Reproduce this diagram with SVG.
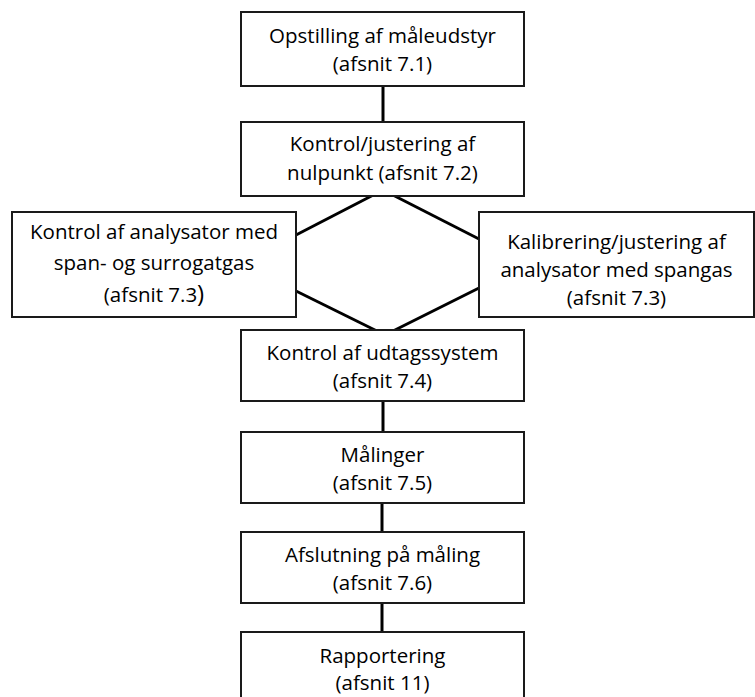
<svg xmlns="http://www.w3.org/2000/svg" width="755" height="697" viewBox="0 0 755 697">
<style>
.box{fill:#fff;stroke:#1a1a1a;stroke-width:2}
.c{stroke:#000;stroke-width:3;fill:none}
text{font-family:"Open Sans","Noto Sans",sans-serif;font-size:20.5px;fill:#000;text-anchor:middle}
</style>
<rect width="755" height="697" fill="#fff"/>
<g id="connectors">
<line class="c" x1="383" y1="86" x2="383" y2="122"/>
<line class="c" x1="383" y1="190" x2="296" y2="235"/>
<line class="c" x1="383" y1="190" x2="479" y2="239"/>
<line class="c" x1="296" y1="291" x2="385" y2="335"/>
<line class="c" x1="479" y1="288" x2="385" y2="335"/>
<line class="c" x1="383" y1="401" x2="383" y2="432"/>
<line class="c" x1="382" y1="503" x2="382" y2="532"/>
<line class="c" x1="382" y1="603" x2="382" y2="632"/>
</g>
<g id="n1"><rect class="box" x="241" y="12" width="283" height="74"/><text x="382.5" y="43">Opstilling af måleudstyr</text><text x="382.5" y="71">(afsnit 7.1)</text></g>
<g id="n2"><rect class="box" x="241" y="122" width="283" height="74"/><text x="382.5" y="151">Kontrol/justering af</text><text x="382.5" y="180">nulpunkt (afsnit 7.2)</text></g>
<g id="n3"><rect class="box" x="12" y="212" width="284" height="105"/><text x="154" y="239">Kontrol af analysator med</text><text x="154" y="270">span- og surrogatgas</text><text x="154" y="302">(afsnit 7.3<tspan font-size="24px">)</tspan></text></g>
<g id="n4"><rect class="box" x="479" y="212" width="275" height="105"/><text x="616.5" y="249">Kalibrering/justering af</text><text x="616.5" y="277">analysator med spangas</text><text x="616.5" y="305">(afsnit 7.3)</text></g>
<g id="n5"><rect class="box" x="241" y="330" width="283" height="71"/><text x="382.5" y="360">Kontrol af udtagssystem</text><text x="382.5" y="388">(afsnit 7.4)</text></g>
<g id="n6"><rect class="box" x="241" y="432" width="283" height="71"/><text x="382.5" y="462">Målinger</text><text x="382.5" y="490">(afsnit 7.5)</text></g>
<g id="n7"><rect class="box" x="241" y="532" width="283" height="71"/><text x="382.5" y="562">Afslutning på måling</text><text x="382.5" y="590">(afsnit 7.6)</text></g>
<g id="n8"><rect class="box" x="241" y="632" width="283" height="80"/><text x="382.5" y="663">Rapportering</text><text x="382.5" y="690">(afsnit 11)</text></g>
</svg>
